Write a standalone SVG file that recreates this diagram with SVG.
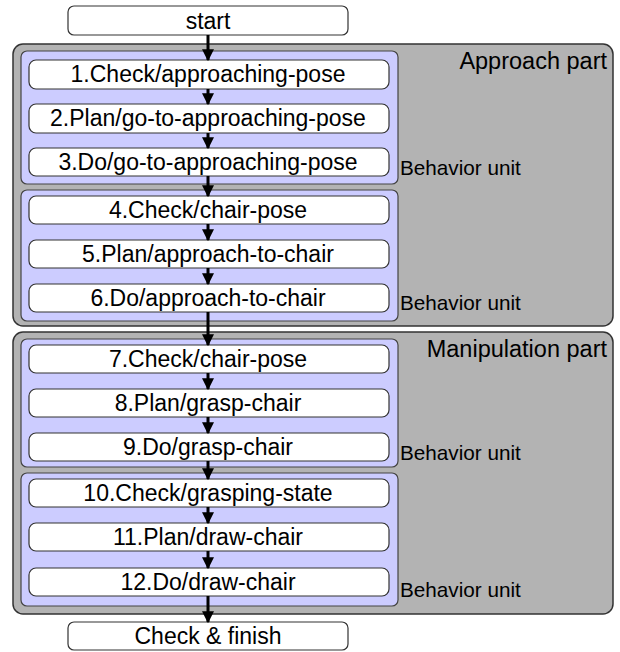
<svg xmlns="http://www.w3.org/2000/svg" width="620" height="652" viewBox="0 0 620 652">
<defs>
<style>
.part{fill:#b3b3b3;stroke:#333;stroke-width:1.5}
.unit{fill:#ccccff;stroke:#444;stroke-width:1.2}
.box{fill:#fff;stroke:#333;stroke-width:1.2}
.t{font-family:"Liberation Sans",Arial,sans-serif;font-size:23px;fill:#000;text-anchor:middle}
.pl{font-family:"Liberation Sans",Arial,sans-serif;font-size:23.5px;fill:#000;text-anchor:end}
.bu{font-family:"Liberation Sans",Arial,sans-serif;font-size:20.7px;fill:#000}
.ar{stroke:#000;stroke-width:3;fill:none;marker-end:url(#ah)}
</style>
<marker id="ah" markerWidth="4" markerHeight="4" refX="3.6" refY="2" orient="auto" markerUnits="strokeWidth">
<path d="M0,0 L4,2 L0,4 Z" fill="#000"/>
</marker>
</defs>
<g id="approach-part">
<rect class="part" x="13" y="44" width="600" height="282" rx="10"/>
<text class="pl" x="607" y="69">Approach part</text>
</g>
<g id="manipulation-part">
<rect class="part" x="13" y="332" width="600" height="282" rx="10"/>
<text class="pl" x="607" y="357">Manipulation part</text>
</g>
<g id="unit1">
<rect class="unit" x="21" y="51" width="377" height="133" rx="6"/>
<text class="bu" x="400" y="175">Behavior unit</text>
</g>
<g id="unit2">
<rect class="unit" x="21" y="190" width="377" height="131" rx="6"/>
<text class="bu" x="400" y="310">Behavior unit</text>
</g>
<g id="unit3">
<rect class="unit" x="21" y="339" width="377" height="128" rx="6"/>
<text class="bu" x="400" y="460">Behavior unit</text>
</g>
<g id="unit4">
<rect class="unit" x="21" y="473" width="377" height="133" rx="6"/>
<text class="bu" x="400" y="597">Behavior unit</text>
</g>
<g id="start"><rect class="box" x="68" y="6" width="280" height="29" rx="6"/><text class="t" x="208" y="29">start</text></g>
<g id="n1"><rect class="box" x="29" y="60" width="360" height="29" rx="7"/><text class="t" x="208" y="82">1.Check/approaching-pose</text></g>
<g id="n2"><rect class="box" x="29" y="104" width="360" height="29" rx="7"/><text class="t" x="208" y="126">2.Plan/go-to-approaching-pose</text></g>
<g id="n3"><rect class="box" x="29" y="148" width="360" height="28" rx="7"/><text class="t" x="208" y="170">3.Do/go-to-approaching-pose</text></g>
<g id="n4"><rect class="box" x="29" y="196" width="360" height="28" rx="7"/><text class="t" x="208" y="218">4.Check/chair-pose</text></g>
<g id="n5"><rect class="box" x="29" y="240" width="360" height="28" rx="7"/><text class="t" x="208" y="262">5.Plan/approach-to-chair</text></g>
<g id="n6"><rect class="box" x="29" y="284" width="360" height="28" rx="7"/><text class="t" x="208" y="306">6.Do/approach-to-chair</text></g>
<g id="n7"><rect class="box" x="29" y="345" width="360" height="28" rx="7"/><text class="t" x="208" y="367">7.Check/chair-pose</text></g>
<g id="n8"><rect class="box" x="29" y="389" width="360" height="28" rx="7"/><text class="t" x="208" y="411">8.Plan/grasp-chair</text></g>
<g id="n9"><rect class="box" x="29" y="433" width="360" height="28" rx="7"/><text class="t" x="208" y="455">9.Do/grasp-chair</text></g>
<g id="n10"><rect class="box" x="29" y="479" width="360" height="28" rx="7"/><text class="t" x="208" y="501">10.Check/grasping-state</text></g>
<g id="n11"><rect class="box" x="29" y="523" width="360" height="28" rx="7"/><text class="t" x="208" y="545">11.Plan/draw-chair</text></g>
<g id="n12"><rect class="box" x="29" y="568" width="360" height="28" rx="7"/><text class="t" x="208" y="590">12.Do/draw-chair</text></g>
<g id="finish"><rect class="box" x="68" y="622" width="280" height="28" rx="6"/><text class="t" x="208" y="644">Check &amp; finish</text></g>
<g id="connectors">
<line class="ar" x1="208" y1="35" x2="208" y2="60"/>
<line class="ar" x1="208" y1="89" x2="208" y2="104"/>
<line class="ar" x1="208" y1="133" x2="208" y2="148"/>
<line class="ar" x1="208" y1="176" x2="208" y2="196"/>
<line class="ar" x1="208" y1="224" x2="208" y2="240"/>
<line class="ar" x1="208" y1="268" x2="208" y2="284"/>
<line class="ar" x1="208" y1="312" x2="208" y2="345"/>
<line class="ar" x1="208" y1="373" x2="208" y2="389"/>
<line class="ar" x1="208" y1="417" x2="208" y2="433"/>
<line class="ar" x1="208" y1="461" x2="208" y2="479"/>
<line class="ar" x1="208" y1="507" x2="208" y2="523"/>
<line class="ar" x1="208" y1="551" x2="208" y2="568"/>
<line class="ar" x1="208" y1="596" x2="208" y2="622"/>
</g>
</svg>
